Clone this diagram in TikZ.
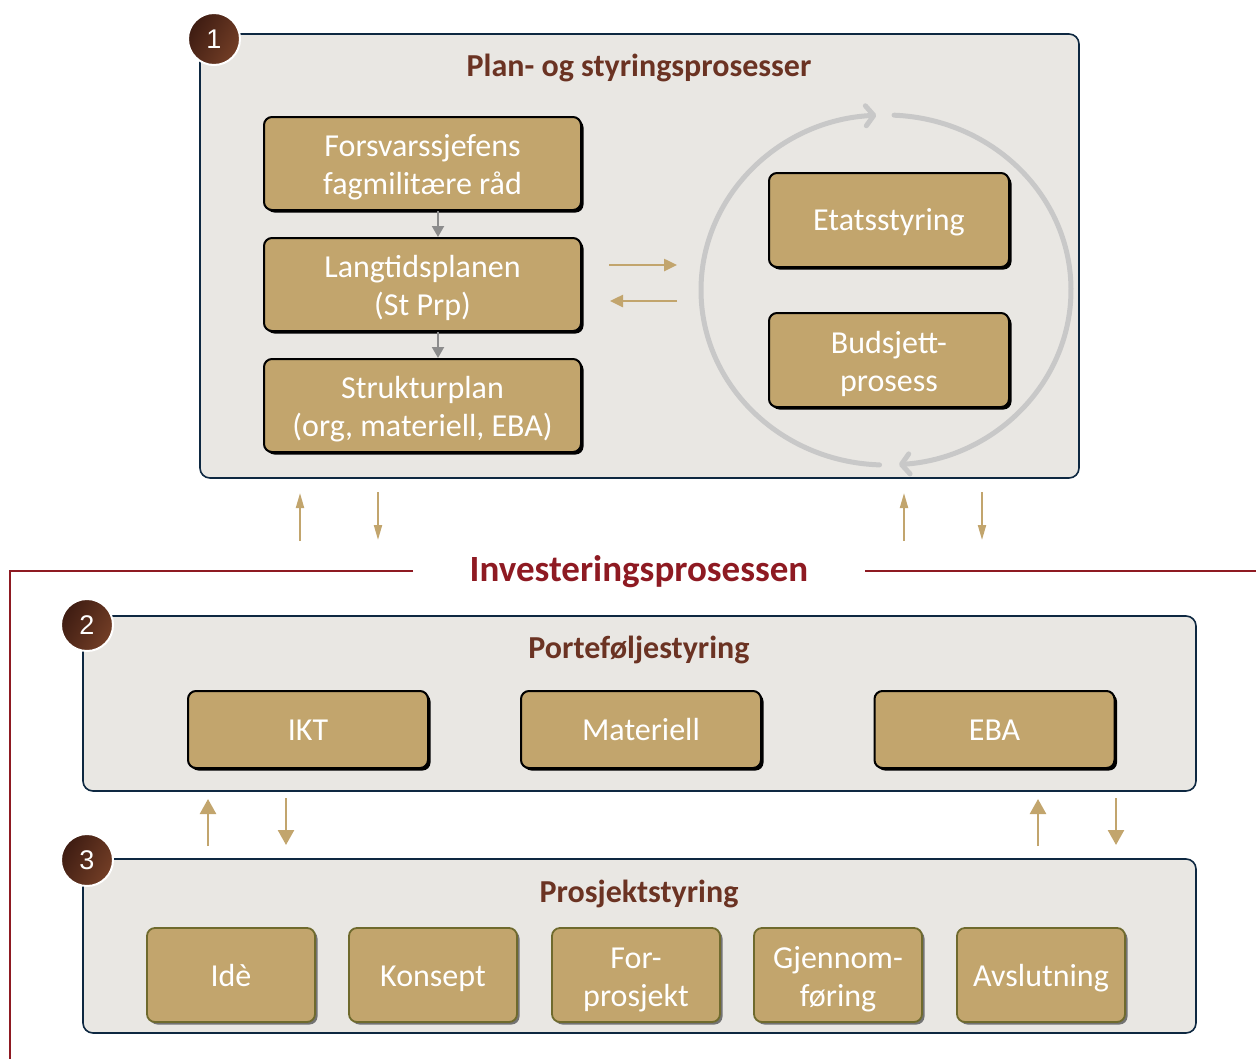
\documentclass[tikz,border=0pt]{standalone}
\usepackage{fontspec}
\setmainfont{Carlito}
\newfontfamily\arialf{Liberation Sans}
\usetikzlibrary{shadows,arrows.meta,calc}
\definecolor{panelfill}{HTML}{E9E7E3}
\definecolor{panelline}{HTML}{0E2841}
\definecolor{gold}{HTML}{C2A56D}
\definecolor{titlebrown}{HTML}{6B3323}
\definecolor{invred}{HTML}{8E1A22}
\definecolor{olive}{HTML}{6F6A2D}
\definecolor{ringgray}{HTML}{C8C8C8}
\definecolor{badgedark}{HTML}{3E1C12}
\definecolor{badgelight}{HTML}{733E26}
\begin{document}
\begin{tikzpicture}[x=1pt,y=-1pt,
  panel/.style={draw=panelline, line width=1.6pt, fill=panelfill, rounded corners=10pt, inner sep=0pt},
  goldbox/.style={draw=black, line width=2pt, fill=gold, rounded corners=8pt, text=white, align=center, inner sep=0pt,
     drop shadow={shadow xshift=2.5pt, shadow yshift=-2.5pt, fill=black, opacity=1}},
  phasebox/.style={draw=olive, line width=1.8pt, fill=gold, rounded corners=8pt, text=white, align=center, inner sep=0pt,
     minimum width=168pt, minimum height=94pt, font=\fontsize{32}{38}\selectfont,
     drop shadow={shadow xshift=2.5pt, shadow yshift=-2.5pt, fill=black!55, opacity=1}},
  oneline/.style={text height=#1, text depth=7pt},
  twoline/.style={text height=69pt, text depth=7pt},
  badge/.style={circle, draw=white, line width=2pt, minimum size=52pt, inner sep=0pt, text=white,
     left color=badgedark, right color=badgelight, shading angle=60, font=\arialf\fontsize{27}{27}\selectfont},
  ptitle/.style={text=titlebrown, font=\bfseries\fontsize{32}{32}\selectfont, inner sep=0pt},
  grayarrow/.style={draw=black!45, line width=2pt, -{Triangle[length=11pt,width=12pt]}},
  goldarrow/.style={draw=gold, line width=2.5pt, -{Triangle[length=13pt,width=12pt]}},
  thinarrow/.style={draw=gold, line width=2pt, -{Triangle[length=15pt,width=8pt]}},
  midarrow/.style={draw=gold, line width=2.5pt, -{Triangle[length=15pt,width=16pt]}},
  ring/.style={draw=ringgray, line width=5pt, line cap=round}
]
\useasboundingbox (0,0) rectangle (1256,1058);

% red frame of the investment process
\draw[invred, line width=2.5pt] (413,571) -- (10,571) -- (10,1060);
\draw[invred, line width=2.5pt] (865,571) -- (1258,571);
\node[text=invred, font=\bfseries\fontsize{37}{37}\selectfont, inner sep=0pt] (inv) at (639,572) {Investeringsprosessen};

% ---------- panel 1 ----------
\node[panel, minimum width=879pt, minimum height=444pt] (p1) at (639.5,256) {};
\node[badge] (b1) at (214,39) {1};
\node[ptitle] (t1) at (639,68) {Plan- og styringsprosesser};

\begin{scope}[every node/.append style={font=\fontsize{32}{38}\selectfont, minimum width=317pt, minimum height=93pt}]
\node[goldbox, twoline] (fsj) at (422.5,163.5) {Forsvarssjefens\\fagmilitære råd};
\node[goldbox, twoline] (ltp) at (422.5,284.5) {Langtidsplanen\\(St Prp)};
\node[goldbox, twoline] (stp) at (422.5,405.5) {Strukturplan\\(org, materiell, EBA)};
\end{scope}
\draw[grayarrow] (fsj.south -| 438,0) -- (ltp.north -| 438,0);
\draw[grayarrow] (ltp.south -| 438,0) -- (stp.north -| 438,0);

\begin{scope}[every node/.append style={font=\fontsize{32}{38}\selectfont, minimum width=240pt, minimum height=94pt}]
\node[goldbox, oneline=27pt] (eta) at (889,220) {Etatsstyring};
\node[goldbox, twoline] (bud) at (889,360) {Budsjett-\\prosess};
\end{scope}

% cycle ring
\coordinate (rc) at (886,290);
\draw[ring, -{Straight Barb[length=8pt,width=20pt,round]}] ($(rc)+(268:185pt and 175pt)$) arc[start angle=268, end angle=93, x radius=185pt, y radius=175pt];
\draw[ring, -{Straight Barb[length=8pt,width=20pt,round]}] ($(rc)+(87.5:185pt and 175pt)$) arc[start angle=87.5, end angle=-86, x radius=185pt, y radius=175pt];

% exchange arrows
\coordinate (ex1a) at (609,265); \coordinate (ex1b) at (677,265);
\coordinate (ex2a) at (677,301); \coordinate (ex2b) at (610,301);
\draw[goldarrow] (ex1a) -- (ex1b);
\draw[goldarrow] (ex2a) -- (ex2b);

% arrows panel 1 <-> investment process
\coordinate (u1a) at (300,541); \coordinate (u1b) at (300,493);
\coordinate (d1a) at (378,492); \coordinate (d1b) at (378,540);
\coordinate (u2a) at (904,541); \coordinate (u2b) at (904,493);
\coordinate (d2a) at (982,492); \coordinate (d2b) at (982,540);
\draw[thinarrow] (u1a) -- (u1b);
\draw[thinarrow] (d1a) -- (d1b);
\draw[thinarrow] (u2a) -- (u2b);
\draw[thinarrow] (d2a) -- (d2b);

% ---------- panel 2 ----------
\node[panel, minimum width=1113pt, minimum height=175pt] (p2) at (639.5,703.5) {};
\node[badge] (b2) at (87,625) {2};
\node[ptitle] (t2) at (639,650) {Porteføljestyring};
\begin{scope}[every node/.append style={font=\fontsize{32}{38}\selectfont, minimum width=240pt, minimum height=77pt, oneline=28pt}]
\node[goldbox] (ikt) at (308,729.5) {IKT};
\node[goldbox] (mat) at (641,729.5) {Materiell};
\node[goldbox] (eba) at (994.5,729.5) {EBA};
\end{scope}

% arrows panel 2 <-> panel 3
\coordinate (u3a) at (208,846); \coordinate (u3b) at (208,799);
\coordinate (d3a) at (286,798); \coordinate (d3b) at (286,845);
\coordinate (u4a) at (1038,846); \coordinate (u4b) at (1038,799);
\coordinate (d4a) at (1116,798); \coordinate (d4b) at (1116,845);
\draw[midarrow] (u3a) -- (u3b);
\draw[midarrow] (d3a) -- (d3b);
\draw[midarrow] (u4a) -- (u4b);
\draw[midarrow] (d4a) -- (d4b);

% ---------- panel 3 ----------
\node[panel, minimum width=1113pt, minimum height=174pt] (p3) at (639.5,946) {};
\node[badge] (b3) at (87,860) {3};
\node[ptitle] (t3) at (639,894) {Prosjektstyring};
\node[phasebox, oneline=29pt] (ide) at (231,975) {Idè};
\node[phasebox, oneline=29pt] (kon) at (433,975) {Konsept};
\node[phasebox, twoline] (for) at (636,975) {For-\\prosjekt};
\node[phasebox, twoline] (gjf) at (838,975) {Gjennom-\\føring};
\node[phasebox, oneline=29pt] (avs) at (1041,975) {Avslutning};
\end{tikzpicture}
\end{document}
